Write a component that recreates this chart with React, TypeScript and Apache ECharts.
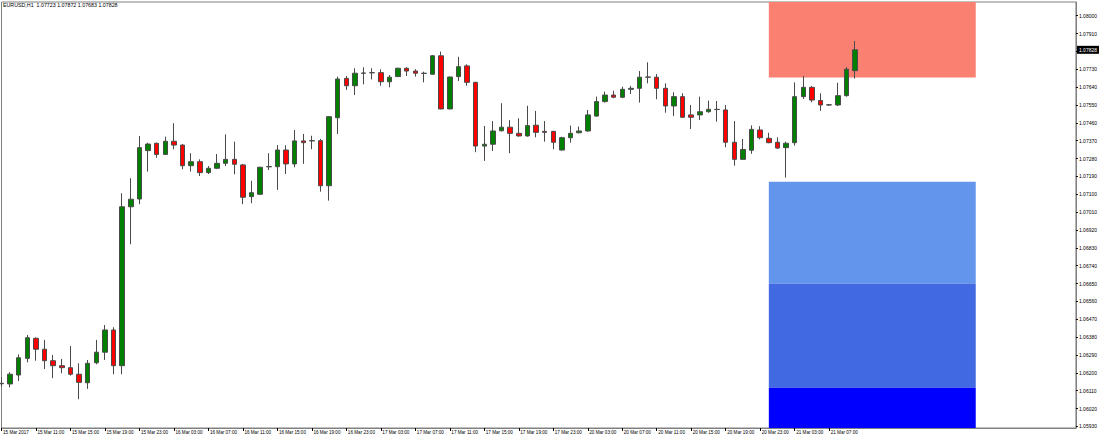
import React, { useEffect, useRef } from "react";
import * as echarts from "echarts";

const headerText = "EURUSD,H1  1.07723 1.07872 1.07683 1.07828";

// Hourly bars, 15 Mar 2017 07:00 -> 21 Mar 2017 10:00 (100 bars)
const open = [
  1.06147, 1.06144, 1.06189, 1.06273, 1.06374, 1.06319, 1.06261, 1.06236, 1.06226, 1.06193,
  1.0615, 1.06251, 1.06304, 1.06416, 1.06236, 1.07037, 1.07076, 1.0732, 1.07357, 1.07301,
  1.07367, 1.07348, 1.07244, 1.07264, 1.07209, 1.07231, 1.07256, 1.07276, 1.07248, 1.07088,
  1.071, 1.07238, 1.07239, 1.07323, 1.07253, 1.07369, 1.07369, 1.0737, 1.07143, 1.07486,
  1.07684, 1.07647, 1.0771, 1.07712, 1.07713, 1.07667, 1.07693, 1.07735, 1.07721, 1.0771,
  1.07705, 1.07798, 1.0753, 1.07693, 1.07747, 1.07664, 1.07343, 1.07352, 1.0742, 1.07438,
  1.07407, 1.07394, 1.07448, 1.07417, 1.07417, 1.07323, 1.07385, 1.0741, 1.07419, 1.07494,
  1.07567, 1.076, 1.07589, 1.07629, 1.07634, 1.0769, 1.0769, 1.07634, 1.07545, 1.07592,
  1.075, 1.075, 1.07516, 1.07528, 1.07525, 1.07362, 1.07276, 1.07322, 1.07424, 1.07382,
  1.07362, 1.07335, 1.0736, 1.07592, 1.07639, 1.07572, 1.0755, 1.0755, 1.07597, 1.07723,
];
const high = [
  1.06179, 1.06203, 1.06293, 1.06391, 1.06379, 1.06366, 1.0629, 1.0627, 1.06335, 1.06248,
  1.06265, 1.06366, 1.06441, 1.0643, 1.07105, 1.07181, 1.07394, 1.0736, 1.0736, 1.0739,
  1.07458, 1.07352, 1.07307, 1.07276, 1.07242, 1.07303, 1.07402, 1.07365, 1.07253, 1.07168,
  1.07239, 1.07307, 1.07348, 1.07347, 1.07424, 1.07404, 1.07395, 1.07379, 1.07494, 1.07693,
  1.07696, 1.07735, 1.0774, 1.07735, 1.0773, 1.07701, 1.07738, 1.0774, 1.0773, 1.07718,
  1.07802, 1.07819, 1.07693, 1.07793, 1.07755, 1.07667, 1.07444, 1.07469, 1.07559, 1.07474,
  1.07483, 1.07546, 1.0752, 1.07469, 1.0742, 1.0739, 1.07446, 1.07441, 1.07525, 1.07592,
  1.07617, 1.07622, 1.07642, 1.07646, 1.07721, 1.07765, 1.07706, 1.07659, 1.07614, 1.07609,
  1.0755, 1.07592, 1.07572, 1.0757, 1.0755, 1.07469, 1.07379, 1.07447, 1.07443, 1.0741,
  1.07387, 1.07365, 1.07664, 1.07696, 1.07646, 1.07609, 1.07555, 1.07662, 1.0774, 1.07872,
];
const low = [
  1.06129, 1.06127, 1.06159, 1.06253, 1.06261, 1.06219, 1.06173, 1.06198, 1.06186, 1.06067,
  1.06119, 1.06243, 1.06265, 1.06193, 1.06193, 1.06848, 1.0705, 1.07214, 1.07284, 1.07298,
  1.07327, 1.07226, 1.07214, 1.07192, 1.07202, 1.07227, 1.07242, 1.07201, 1.0705, 1.07055,
  1.07096, 1.07222, 1.07122, 1.07202, 1.07236, 1.07253, 1.07327, 1.07113, 1.07068, 1.07404,
  1.07626, 1.076, 1.07654, 1.07679, 1.07647, 1.07639, 1.07691, 1.07696, 1.07693, 1.07664,
  1.07703, 1.07528, 1.07528, 1.07671, 1.07647, 1.07312, 1.07268, 1.07318, 1.07417, 1.07307,
  1.0739, 1.0739, 1.07387, 1.07365, 1.07327, 1.0732, 1.0736, 1.07407, 1.07415, 1.07491,
  1.07562, 1.07584, 1.07584, 1.07605, 1.07562, 1.07659, 1.07579, 1.07511, 1.07494, 1.07486,
  1.07429, 1.07474, 1.07511, 1.07466, 1.07337, 1.07244, 1.07274, 1.07304, 1.07377, 1.07357,
  1.07328, 1.07184, 1.07345, 1.0758, 1.07564, 1.0752, 1.07545, 1.07545, 1.07592, 1.07683,
];
const close = [
  1.06145, 1.06193, 1.06276, 1.06377, 1.06319, 1.06261, 1.06236, 1.06226, 1.06193, 1.06152,
  1.06248, 1.06304, 1.06416, 1.06236, 1.07037, 1.07075, 1.07335, 1.07353, 1.07301, 1.07367,
  1.07348, 1.07244, 1.07264, 1.07209, 1.07231, 1.07256, 1.07276, 1.07251, 1.07085, 1.07108,
  1.07236, 1.0724, 1.07323, 1.07253, 1.07369, 1.0736, 1.0737, 1.07143, 1.07491, 1.07681,
  1.07647, 1.0771, 1.07711, 1.07713, 1.07667, 1.0769, 1.07735, 1.07721, 1.0771, 1.07709,
  1.07798, 1.0753, 1.07691, 1.07743, 1.07664, 1.07343, 1.07352, 1.07419, 1.07438, 1.07407,
  1.07394, 1.07446, 1.07412, 1.07412, 1.07362, 1.07385, 1.07407, 1.07419, 1.075, 1.07567,
  1.076, 1.07589, 1.07629, 1.07634, 1.0769, 1.07691, 1.07634, 1.07545, 1.07592, 1.07488,
  1.07488, 1.07516, 1.07528, 1.07527, 1.07362, 1.07276, 1.07326, 1.07427, 1.07385, 1.0736,
  1.07333, 1.07357, 1.07592, 1.07639, 1.07575, 1.0755, 1.07551, 1.07597, 1.0773, 1.07828,
];

// Time-axis labels (one every 4 bars)
const xLabels = [
  "15 Mar 2017", "15 Mar 11:00", "15 Mar 15:00", "15 Mar 19:00", "15 Mar 23:00",
  "16 Mar 03:00", "16 Mar 07:00", "16 Mar 11:00", "16 Mar 15:00", "16 Mar 19:00",
  "16 Mar 23:00", "17 Mar 03:00", "17 Mar 07:00", "17 Mar 11:00", "17 Mar 15:00",
  "17 Mar 19:00", "17 Mar 23:00", "20 Mar 03:00", "20 Mar 07:00", "20 Mar 11:00",
  "20 Mar 15:00", "20 Mar 19:00", "20 Mar 23:00", "21 Mar 03:00", "21 Mar 07:00",
];
const xLabelStep = 4;

// Price scale
const yTicks = [
  1.0593, 1.0602, 1.0611, 1.062, 1.0629, 1.0638, 1.0647, 1.0656, 1.0665, 1.0674,
  1.0683, 1.0692, 1.0701, 1.071, 1.0719, 1.0728, 1.0737, 1.0746, 1.0755, 1.0764,
  1.0773, 1.0782, 1.0791, 1.08,
];
const yMin = 1.05922;
const yMax = 1.08069;
const xMax = 124.62; // visible bars incl. chart shift

// Zones (rectangles drawn from 21 Mar 00:00 to 22 Mar 00:00)
const zoneFromBar = 89;
const zoneToBar = 113;
const zoneLow = [1.07688, 1.0665, 1.06125, yMin];
const zoneHigh = [yMax, 1.07163, 1.0665, 1.06125];
const zoneColors = ["#fa8072", "#6495ed", "#4169e1", "#0000ff"];

const FONT = "'Liberation Sans', Arial, sans-serif";

export default function App() {
  const ref = useRef<HTMLDivElement>(null);
  useEffect(() => {
    document.body.style.margin = "0";
    if (!ref.current) return;
    const chart = echarts.init(ref.current, undefined, { renderer: "svg" });
    const tickIdx = xLabels.map((_, k) => k * xLabelStep);
    const lastClose = close[close.length - 1];
    const data = open.map((o, i) => [i, o, close[i], low[i], high[i]]);
    chart.setOption({
      animation: false,
      backgroundColor: "#ffffff",
      title: {
        text: headerText,
        left: 3,
        top: 2,
        padding: 0,
        textStyle: { fontSize: 5.3, fontWeight: "normal", color: "#000", fontFamily: FONT },
      },
      grid: {
        left: 1.5,
        right: 24,
        top: 2,
        bottom: 12,
        show: true,
        borderColor: "#808080",
        borderWidth: 1,
        backgroundColor: "transparent",
      },
      xAxis: {
        type: "value",
        min: 0,
        max: xMax,
        axisLine: { show: true, onZero: false, lineStyle: { color: "#808080", width: 1 } },
        axisTick: { show: true, length: 3, customValues: tickIdx, lineStyle: { color: "#000" } },
        axisLabel: {
          show: true,
          customValues: tickIdx,
          formatter: (v: number) => xLabels[Math.round(v / xLabelStep)] ?? "",
          align: "left",
          fontSize: 4.6,
          color: "#000",
          margin: 2,
          padding: [0, 0, 0, 1.5],
          fontFamily: FONT,
        },
        splitLine: { show: false },
      },
      yAxis: {
        type: "value",
        position: "right",
        min: yMin,
        max: yMax,
        scale: true,
        axisLine: { show: true, onZero: false, lineStyle: { color: "#808080", width: 1 } },
        axisTick: { show: true, length: 2, customValues: yTicks, lineStyle: { color: "#000" } },
        axisLabel: {
          show: true,
          customValues: yTicks.filter((v) => Math.abs(v - 1.0782) > 1e-6),
          formatter: (v: number) => v.toFixed(5),
          fontSize: 5,
          color: "#000",
          margin: 3,
          fontFamily: FONT,
        },
        splitLine: { show: false },
      },
      series: [
        {
          type: "candlestick",
          data,
          barWidth: 5,
          itemStyle: {
            color: "#008000",
            color0: "#ff0000",
            borderColor: "#4a4a4a",
            borderColor0: "#4a4a4a",
            borderWidth: 1,
          },
          markArea: {
            silent: true,
            data: zoneColors.map((c, k) => [
              { xAxis: zoneFromBar, yAxis: zoneHigh[k], itemStyle: { color: c, opacity: 1 } },
              { xAxis: zoneToBar, yAxis: zoneLow[k] },
            ]),
          },
        },
      ],
    });
    // Current-price tag on the price scale, placed through the y axis' own scale
    const py = chart.convertToPixel({ yAxisIndex: 0 }, lastClose) as number;
    const grid = (chart as any).getModel().getComponent("grid", 0).coordinateSystem.getRect();
    chart.setOption({
      graphic: [
        {
          type: "text",
          x: grid.x + grid.width + 1,
          y: py,
          z: 100,
          silent: true,
          style: {
            text: lastClose.toFixed(5),
            fill: "#ffffff",
            backgroundColor: "#000000",
            padding: [1.5, 2, 1.5, 2],
            font: `5px ${FONT}`,
            align: "left",
            verticalAlign: "middle",
          },
        },
      ],
    });
    return () => chart.dispose();
  }, []);
  return <div ref={ref} style={{ width: 1100, height: 440 }} />;
}
